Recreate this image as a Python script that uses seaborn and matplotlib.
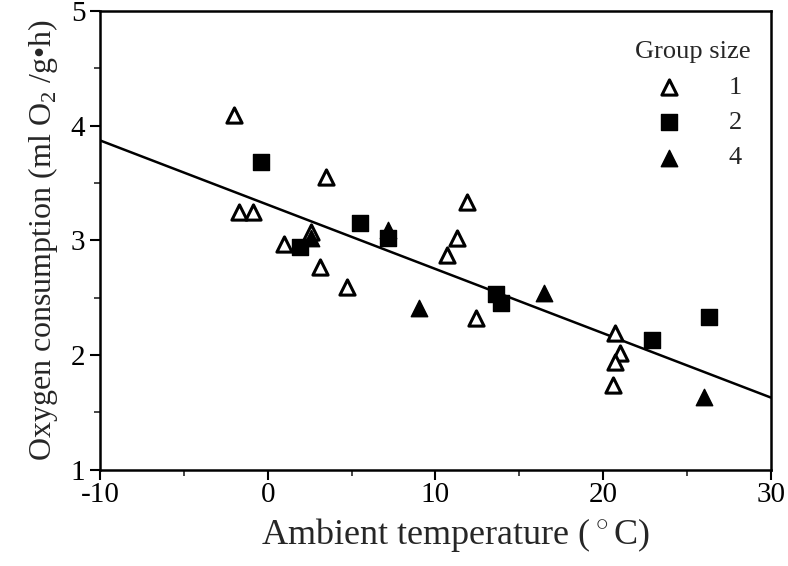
import numpy as np
import pandas as pd
import matplotlib
matplotlib.use('Agg')
import matplotlib.pyplot as plt
import seaborn as sns
from matplotlib.ticker import MultipleLocator

# Group size 1 (open triangles)
g1_temp = [-2.0, -1.7, -0.9, 1.0, 2.6, 3.1, 3.5, 4.7, 10.7, 11.3, 11.9, 12.4, 20.7, 21.0, 20.7, 20.6]
g1_o2 = [4.09, 3.25, 3.25, 2.97, 3.07, 2.77, 3.55, 2.59, 2.87, 3.02, 3.33, 2.32, 2.19, 2.02, 1.94, 1.74]

# Group size 2 (filled squares)
g2_temp = [-0.4, 1.9, 5.5, 7.2, 13.6, 13.9, 22.9, 26.3]
g2_o2 = [3.68, 2.94, 3.15, 3.02, 2.53, 2.45, 2.13, 2.33]

# Group size 4 (filled triangles)
g4_temp = [2.6, 7.2, 9.0, 16.5, 26.0]
g4_o2 = [3.02, 3.09, 2.41, 2.54, 1.63]

# regression line
fit_temp = [-10, 30]
fit_o2 = [3.87, 1.63]

groups = ['1', '2', '4']

df = pd.concat([
    pd.DataFrame({'temp': g1_temp, 'o2': g1_o2, 'group': '1'}),
    pd.DataFrame({'temp': g2_temp, 'o2': g2_o2, 'group': '2'}),
    pd.DataFrame({'temp': g4_temp, 'o2': g4_o2, 'group': '4'}),
])
df_fit = pd.DataFrame({'temp': fit_temp, 'o2': fit_o2})

sns.set_style("ticks")
plt.rcParams['font.family'] = ['Liberation Serif', 'DejaVu Serif']
plt.rcParams['mathtext.fontset'] = 'custom'
plt.rcParams['mathtext.rm'] = 'Liberation Serif'
plt.rcParams['axes.unicode_minus'] = False

fig, ax = plt.subplots(figsize=(7.88, 5.66), dpi=100)
fig.subplots_adjust(left=0.127, right=0.978, top=0.981, bottom=0.17)

sns.lineplot(x='temp', y='o2', data=df_fit, color='black', linewidth=1.8, ax=ax, legend=False)

styles = {
    '1': dict(marker='^', facecolor='white', edgecolor='black', linewidth=2.2, s=120),
    '2': dict(marker='s', facecolor='black', edgecolor='black', linewidth=1, s=130),
    '4': dict(marker='^', facecolor='black', edgecolor='black', linewidth=1, s=140),
}
for g in groups:
    sns.scatterplot(x='temp', y='o2', data=df[df.group == g], label=g, ax=ax, zorder=3, **styles[g])

ax.set_xlim(-10, 30)
ax.set_ylim(1, 5)
ax.xaxis.set_major_locator(MultipleLocator(10))
ax.xaxis.set_minor_locator(MultipleLocator(5))
ax.yaxis.set_major_locator(MultipleLocator(1))
ax.yaxis.set_minor_locator(MultipleLocator(0.5))
ax.tick_params(which='major', direction='out', length=7, width=1.5, labelsize=21, colors='black')
ax.tick_params(which='minor', direction='out', length=4, width=1.2)
ax.tick_params(axis='x', pad=2)
for sp in ax.spines.values():
    sp.set_linewidth(1.8)
    sp.set_color('black')

ax.set_xlabel('Ambient temperature ($^\\circ$C)', fontsize=26, labelpad=10)
ax.xaxis.set_label_coords(0.53, -0.1)
ax.set_ylabel('Oxygen consumption (ml O$_2$ /g\u2022h)', fontsize=23, labelpad=8)

leg = ax.legend(title='Group size', frameon=False, loc='upper right', fontsize=19,
                title_fontsize=19, handletextpad=1.25, labelspacing=0.45,
                bbox_to_anchor=(1.005, 0.985))

fig.savefig('out.png', dpi=100)
